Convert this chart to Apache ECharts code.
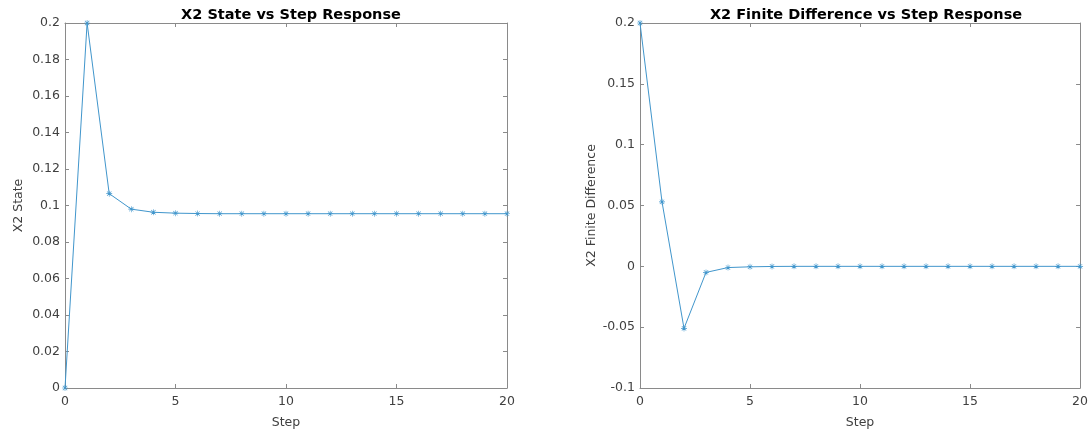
<!DOCTYPE html>
<html><head><meta charset="utf-8">
<script src="https://cdn.jsdelivr.net/npm/echarts@6/dist/echarts.min.js"></script>
<style>html,body{margin:0;padding:0;background:#fff}#c{width:1091px;height:434px}</style>
</head><body><div id="c"></div>
<script>
const steps = [0,1,2,3,4,5,6,7,8,9,10,11,12,13,14,15,16,17,18,19,20];
const x2State = [0,0.2,0.1065,0.098,0.0963,0.0958,0.0956,0.0955,0.0955,0.0955,0.0955,0.0955,0.0955,0.0955,0.0955,0.0955,0.0955,0.0955,0.0955,0.0955,0.0955];
const x2Diff = [0.2,0.053,-0.051,-0.005,-0.001,-0.0004,-0.0001,0,0,0,0,0,0,0,0,0,0,0,0,0,0];
const leftYTicks = {min:0,max:0.2,interval:0.02};
const rightYTicks = {min:-0.1,max:0.2,interval:0.05};
const xTicks = {min:0,max:20,interval:5};

const font = 'DejaVu Sans';
const lineColor = '#4196CC';
const axisColor = '#8a8a8a';
const textColor = '#404040';
const star = 'path://M0,4.5h10v1h-10z M4.5,0h1v10h-1z M1,1.7L1.7,1L9,8.3L8.3,9z M8.3,1L9,1.7L1.7,9L1,8.3z';

const grids = [
  {left:65,right:584,top:23,bottom:43},
  {left:640,right:9,top:23,bottom:43}
];
function xAxes(g){
  return [
    {type:'value',gridIndex:g,...xTicks,position:'bottom',name:'Step',nameLocation:'middle',nameGap:28,
     nameTextStyle:{fontFamily:font,fontSize:12.5,color:textColor},
     axisLine:{onZero:false,lineStyle:{color:axisColor}},axisTick:{inside:true,length:4,lineStyle:{color:axisColor}},
     axisLabel:{fontFamily:font,fontSize:12.5,color:textColor,margin:7},splitLine:{show:false}},
    {type:'value',gridIndex:g,...xTicks,position:'top',
     axisLine:{onZero:false,lineStyle:{color:axisColor}},axisTick:{inside:true,length:4,lineStyle:{color:axisColor}},
     axisLabel:{show:false},splitLine:{show:false}}
  ];
}
function yAxes(g,ticks,name,gap){
  return [
    {type:'value',gridIndex:g,...ticks,position:'left',name:name,nameLocation:'middle',nameGap:gap,
     nameTextStyle:{fontFamily:font,fontSize:12.5,color:textColor},
     axisLine:{show:true,onZero:false,lineStyle:{color:axisColor}},axisTick:{show:true,inside:true,length:4,lineStyle:{color:axisColor}},
     axisLabel:{fontFamily:font,fontSize:12.5,color:textColor,margin:5},splitLine:{show:false}},
    {type:'value',gridIndex:g,...ticks,position:'right',
     axisLine:{show:true,onZero:false,lineStyle:{color:axisColor}},axisTick:{show:true,inside:true,length:4,lineStyle:{color:axisColor}},
     axisLabel:{show:false},splitLine:{show:false}}
  ];
}
const chart = echarts.init(document.getElementById('c'),null,{renderer:'canvas'});
chart.setOption({
  animation:false,
  backgroundColor:'#fff',
  title:[
    {text:'X2 State vs Step Response',left:286,top:3,textAlign:'center',textStyle:{fontFamily:font,fontSize:14.5,fontWeight:'bold',color:'#000'}},
    {text:'X2 Finite Difference vs Step Response',left:861,top:3,textAlign:'center',textStyle:{fontFamily:font,fontSize:14.5,fontWeight:'bold',color:'#000'}}
  ],
  grid:grids,
  xAxis:[...xAxes(0),...xAxes(1)],
  yAxis:[...yAxes(0,leftYTicks,'X2 State',40),...yAxes(1,rightYTicks,'X2 Finite Difference',42)],
  series:[
    {type:'line',xAxisIndex:0,yAxisIndex:0,data:steps.map((s,i)=>[s,x2State[i]]),
     symbol:star,symbolSize:6,showAllSymbol:true,lineStyle:{color:lineColor,width:1},itemStyle:{color:lineColor},clip:false},
    {type:'line',xAxisIndex:2,yAxisIndex:2,data:steps.map((s,i)=>[s,x2Diff[i]]),
     symbol:star,symbolSize:6,showAllSymbol:true,lineStyle:{color:lineColor,width:1},itemStyle:{color:lineColor},clip:false}
  ]
});
</script></body></html>
